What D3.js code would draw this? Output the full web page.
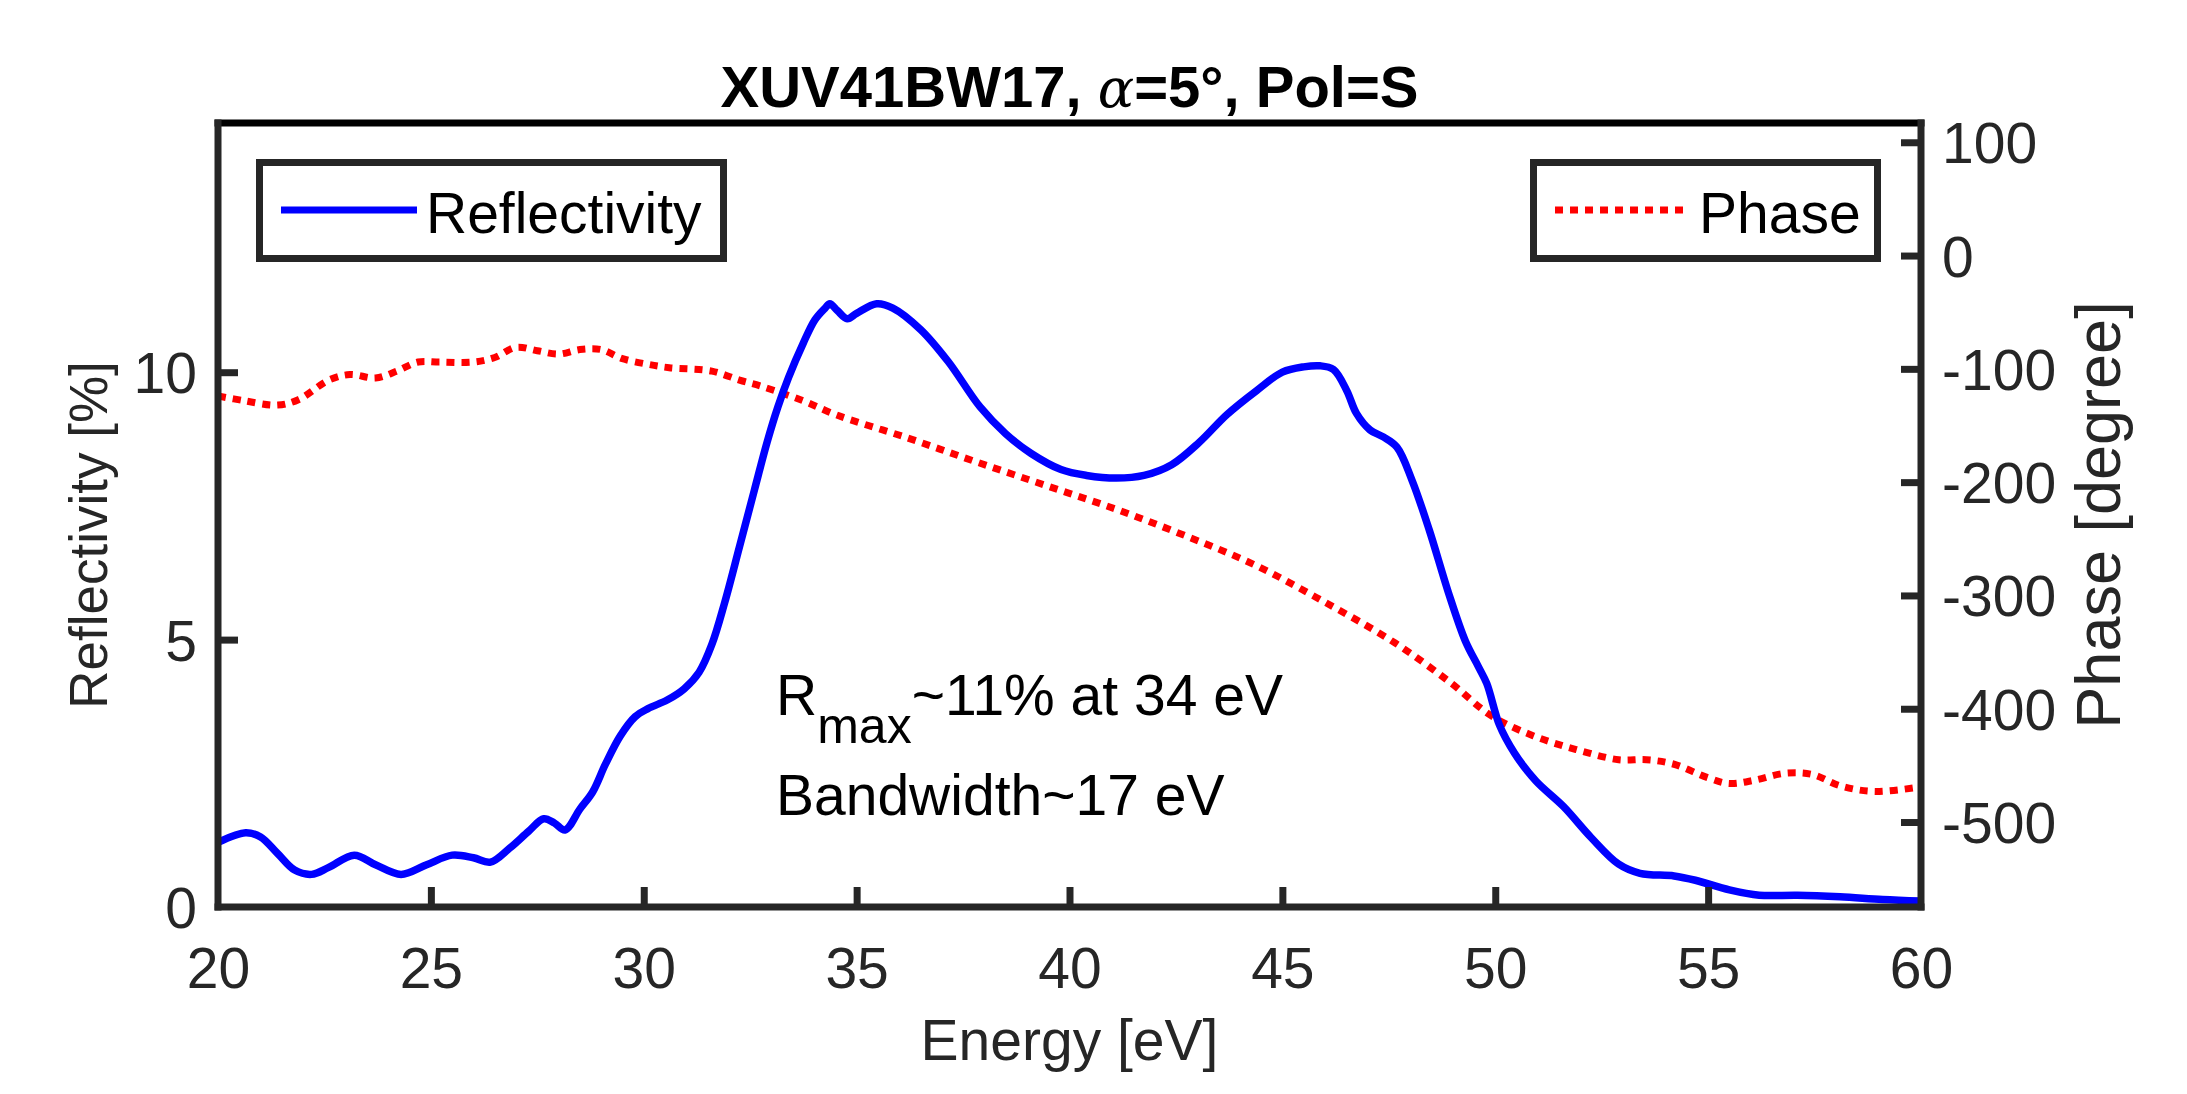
<!DOCTYPE html>
<html><head><meta charset="utf-8">
<script src="https://cdn.jsdelivr.net/npm/d3@7"></script>
<style>body{margin:0;background:#fff}svg{display:block}</style>
</head><body>
<svg id="chart" width="2187" height="1094"></svg>
<script>
// ---- data ----
const energyR = [20,20.65,21,21.4,21.8,22.2,22.6,23.2,23.7,24.3,24.9,25.5,26,26.4,26.85,27.3,27.65,27.9,28.15,28.5,28.8,29.1,29.45,29.8,30.1,30.55,30.95,31.3,31.6,31.9,32.25,32.6,32.9,33.15,33.4,33.75,34.02,34.26,34.37,34.55,34.78,35.0,35.47,35.85,36.5,37.15,37.9,38.5,39.1,39.8,40.4,41.1,41.75,42.4,43.05,43.7,44.4,45.0,45.5,45.88,46.2,46.51,46.74,47.06,47.37,47.69,48.05,48.45,48.9,49.3,49.6,49.8,50.1,50.45,50.95,51.6,52.25,52.9,53.4,54.2,54.7,55.5,56.2,57.1,58.1,59.1,60];
const reflectivity = [1.21,1.39,1.31,1.0,0.69,0.61,0.74,0.97,0.79,0.61,0.79,0.97,0.92,0.84,1.1,1.42,1.65,1.57,1.44,1.83,2.15,2.67,3.2,3.56,3.71,3.87,4.08,4.39,4.91,5.69,6.74,7.8,8.7,9.35,9.9,10.55,10.98,11.2,11.28,11.15,11.0,11.1,11.28,11.2,10.8,10.2,9.35,8.85,8.48,8.18,8.07,8.02,8.07,8.27,8.69,9.21,9.66,10.0,10.1,10.12,10.05,9.66,9.23,8.92,8.79,8.6,7.97,7.05,5.88,4.97,4.5,4.18,3.4,2.88,2.36,1.88,1.3,0.8,0.63,0.58,0.5,0.32,0.22,0.22,0.19,0.14,0.11];
const energyP = [20,20.6,21.4,21.9,22.6,23.1,23.7,24.2,24.7,25.2,26,26.5,27,27.5,28,28.5,29,29.5,30.1,30.6,31.6,32.25,32.73,33.73,34.55,36.2,37.8,39.45,41.1,42.7,44.35,46.0,47.65,48.95,49.9,50.9,51.9,52.9,53.55,54.2,55,55.5,56.1,56.8,57.45,58.1,58.9,60];
const phase = [-124,-128,-132,-127,-110,-105,-108,-102,-94,-94,-94,-90,-81,-84,-87,-83,-83,-91,-96,-99,-102,-110,-115,-128,-141,-161,-182,-203,-224,-247,-273,-306,-342,-377,-406,-424,-436,-445,-445,-449,-461,-466,-463,-457,-458,-468,-473,-469];
const xTicks = [20,25,30,35,40,45,50,55,60];
const leftTicks = [0,5,10];
const rightTicks = [100,0,-100,-200,-300,-400,-500];
const titleParts = ["XUV41BW17, ", "\u03B1", "=5\u00B0, Pol=S"];
const legendLabels = ["Reflectivity", "Phase"];
const xLabel = "Energy [eV]";
const leftLabel = "Reflectivity [%]";
const rightLabel = "Phase [degree]";
const note1 = ["R", "max", "~11% at 34 eV"];
const note2 = "Bandwidth~17 eV";

// ---- layout ----
const L = 218, R = 1921, T = 123, B = 907;
const FONT = "'Liberation Sans', Arial, Helvetica, sans-serif";
const AX = "#262626";
const svg = d3.select("#chart");

const x = d3.scaleLinear().domain([20, 60]).range([L, R]);
const yL = d3.scaleLinear().domain([0, 14.66]).range([B, T]);
const yR = d3.scaleLinear().domain([-575, 117]).range([B, T]);

svg.append("defs").append("clipPath").attr("id", "clip")
  .append("rect").attr("x", L).attr("y", T).attr("width", R - L).attr("height", B - T);

// ---- lines ----
const lineR = d3.line().x((d, i) => x(energyR[i])).y(d => yL(d)).curve(d3.curveCatmullRom.alpha(0.5));
const lineP = d3.line().x((d, i) => x(energyP[i])).y(d => yR(d)).curve(d3.curveCatmullRom.alpha(0.5));

const plot = svg.append("g").attr("clip-path", "url(#clip)");
plot.append("path").datum(phase).attr("d", lineP)
  .attr("fill", "none").attr("stroke", "#FF0000").attr("stroke-width", 7)
  .attr("stroke-dasharray", "8,7");
plot.append("path").datum(reflectivity).attr("d", lineR)
  .attr("fill", "none").attr("stroke", "#0000FF").attr("stroke-width", 7.5)
  .attr("stroke-linejoin", "round");

// ---- axes ----
function styleAxis(g) {
  g.select(".domain").remove();
  g.selectAll(".tick line").attr("stroke", AX).attr("stroke-width", 7);
  g.selectAll(".tick text").attr("fill", AX).style("font-family", FONT).style("font-size", "57px");
}
const gx = svg.append("g").attr("transform", `translate(0,${B})`)
  .call(d3.axisBottom(x).tickValues(xTicks).tickSizeInner(-20).tickSizeOuter(0).tickFormat(d => String(d)));
styleAxis(gx);
gx.selectAll(".tick text").attr("y", 81).attr("dy", null);
gx.selectAll(".tick").filter(d => d === 20 || d === 60).select("line").remove();

const gl = svg.append("g").attr("transform", `translate(${L},0)`)
  .call(d3.axisLeft(yL).tickValues(leftTicks).tickSizeInner(-20).tickSizeOuter(0).tickFormat(d => String(d)));
styleAxis(gl);
gl.selectAll(".tick text").attr("x", -21).attr("dy", "0.36em");
gl.selectAll(".tick").filter(d => d === 0).select("line").remove();

const gr = svg.append("g").attr("transform", `translate(${R},0)`)
  .call(d3.axisRight(yR).tickValues(rightTicks).tickSizeInner(-20).tickSizeOuter(0).tickFormat(d => String(d)));
styleAxis(gr);
gr.selectAll(".tick text").attr("x", 21).attr("dy", "0.36em");

// frame
const frame = svg.append("g").attr("stroke-width", 7).attr("stroke-linecap", "square");
frame.append("line").attr("x1", L).attr("x2", R).attr("y1", T).attr("y2", T).attr("stroke", "#000");
frame.append("line").attr("x1", L).attr("x2", R).attr("y1", B).attr("y2", B).attr("stroke", AX);
frame.append("line").attr("x1", L).attr("x2", L).attr("y1", T).attr("y2", B).attr("stroke", AX);
frame.append("line").attr("x1", R).attr("x2", R).attr("y1", T).attr("y2", B).attr("stroke", AX);

// ---- labels ----
svg.append("text").attr("x", (L + R) / 2).attr("y", 1060).attr("text-anchor", "middle")
  .attr("fill", AX).style("font-family", FONT).style("font-size", "57px").text(xLabel);
svg.append("text").attr("transform", `translate(107,535) rotate(-90)`).attr("text-anchor", "middle")
  .attr("fill", AX).style("font-family", FONT).style("font-size", "53px").text(leftLabel);
svg.append("text").attr("transform", `translate(2120,${(T + B) / 2}) rotate(-90)`).attr("text-anchor", "middle")
  .attr("fill", AX).style("font-family", FONT).style("font-size", "63px").text(rightLabel);

// title
const title = svg.append("text").attr("x", (L + R) / 2).attr("y", 107).attr("text-anchor", "middle")
  .attr("fill", "#000").style("font-family", FONT).style("font-size", "58px").style("font-weight", "bold");
title.append("tspan").text(titleParts[0]);
title.append("tspan").style("font-family", "'DejaVu Serif', 'Liberation Serif', serif").style("font-style", "italic")
  .style("font-weight", "normal").style("font-size", "54px").text(titleParts[1]);
title.append("tspan").text(titleParts[2]);

// ---- legends ----
function legend(x0, x1, label, color, dash, lx0, lx1, tx) {
  const g = svg.append("g");
  g.append("rect").attr("x", x0 + 3.5).attr("y", 159 + 3.5).attr("width", x1 - x0 - 7).attr("height", 262 - 159 - 7)
    .attr("fill", "#fff").attr("stroke", AX).attr("stroke-width", 7);
  g.append("line").attr("x1", lx0).attr("x2", lx1).attr("y1", 210).attr("y2", 210)
    .attr("stroke", color).attr("stroke-width", 7).attr("stroke-dasharray", dash);
  g.append("text").attr("x", tx).attr("y", 233).attr("fill", "#000")
    .style("font-family", FONT).style("font-size", "57px").text(label);
}
legend(256, 727, legendLabels[0], "#0000FF", null, 281, 417, 426);
legend(1530, 1881, legendLabels[1], "#FF0000", "8,7", 1555, 1683, 1699);

// ---- annotation ----
const t1 = svg.append("text").attr("x", 776).attr("y", 715).attr("fill", "#000")
  .style("font-family", FONT).style("font-size", "57px");
t1.append("tspan").text(note1[0]);
t1.append("tspan").attr("dy", 28).style("font-size", "50px").text(note1[1]);
t1.append("tspan").attr("dy", -28).text(note1[2]);
svg.append("text").attr("x", 776).attr("y", 815).attr("fill", "#000")
  .style("font-family", FONT).style("font-size", "57px").text(note2);
</script>
</body></html>
